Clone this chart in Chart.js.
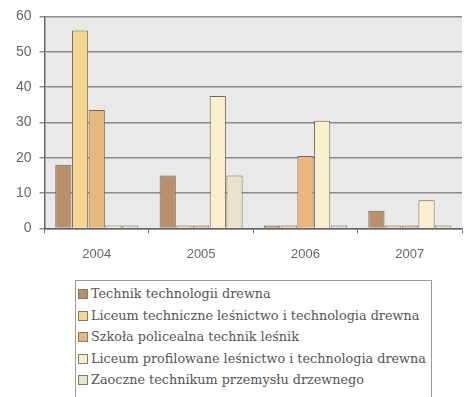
<!DOCTYPE html>
<html>
<head>
<meta charset="utf-8">
<script src="https://cdn.jsdelivr.net/npm/chart.js@4/dist/chart.umd.min.js"></script>
<style>
  html, body { margin:0; padding:0; background:#fff; }
  #wrap { position:relative; width:469px; height:397px; overflow:hidden; }
  #cv { position:absolute; left:0; top:0; }
  #legend { position:absolute; left:75px; top:280px; width:357px; height:125px;
    border:1px solid #9a9a9a; box-sizing:border-box; padding:5px 0 0 2px;
    font-family:"DejaVu Serif", serif; font-size:12.8px; color:#555; }
  #legend div { height:21.5px; line-height:16px; white-space:nowrap; font-family:"DejaVu Serif", serif; }
  #legend span.box { display:inline-block; width:8px; height:8px; border:1px solid #8a7a68; margin-right:3px; vertical-align:-1px; }
</style>
</head>
<body>
<div id="wrap">
  <canvas id="cv" width="469" height="275"></canvas>
  <div id="legend"></div>
</div>
<script>
const categories = ["2004", "2005", "2006", "2007"];
const seriesNames = [
  "Technik technologii drewna",
  "Liceum techniczne leśnictwo i technologia drewna",
  "Szkoła policealna technik leśnik",
  "Liceum profilowane leśnictwo i technologia drewna",
  "Zaoczne technikum przemysłu drzewnego"
];
const technikTechnologii = [18, 15, 0, 5];
const liceumTechniczne = [56, 0, 0, 0];
const szkolaPolicealna = [33.5, 0, 20.5, 0];
const liceumProfilowane = [0, 37.5, 30.5, 8];
const zaoczneTechnikum = [0, 15, 0, 0];
const yTicks = [0, 10, 20, 30, 40, 50, 60];

const seriesValues = [technikTechnologii, liceumTechniczne, szkolaPolicealna, liceumProfilowane, zaoczneTechnikum];
const colors = ["#b8916a", "#f6d68e", "#e9b77c", "#fcefcd", "#e6e5cc"];

const bgPlugin = {
  id: 'bg',
  beforeDraw(chart) {
    const a = chart.chartArea, ctx = chart.ctx;
    ctx.save();
    ctx.fillStyle = '#e9e9e9';
    ctx.fillRect(a.left, a.top, a.right - a.left, a.bottom - a.top);
    ctx.restore();
  }
};

const chart = new Chart(document.getElementById('cv'), {
  type: 'bar',
  data: {
    labels: categories,
    datasets: seriesValues.map((v, i) => ({
      label: seriesNames[i],
      data: v,
      backgroundColor: colors[i],
      borderColor: '#74665a',
      borderWidth: 1,
      minBarLength: 3,
      categoryPercentage: 0.8,
      barPercentage: 0.97
    }))
  },
  options: {
    responsive: false,
    animation: false,
    layout: { padding: { top: 9, right: 7, left: 8, bottom: 0 } },
    plugins: { legend: { display: false }, tooltip: { enabled: false } },
    scales: {
      x: {
        offset: true,
        grid: { offset: true, drawOnChartArea: false, color: '#777', tickLength: 5 },
        border: { color: '#666', width: 1.5 },
        ticks: { color: '#666', font: { family: 'Liberation Sans', size: 13 }, padding: 13 }
      },
      y: {
        min: 0, max: 60,
        afterBuildTicks(scale) { scale.ticks = yTicks.map(v => ({ value: v })); },
        grid: { color: '#8a8a8a', lineWidth: 1.5, tickLength: 5 },
        border: { color: '#666', width: 1.5 },
        ticks: { color: '#666', font: { family: 'Liberation Sans', size: 14 }, padding: 8 }
      }
    }
  },
  plugins: [bgPlugin]
});

const lg = document.getElementById('legend');
chart.data.datasets.forEach(ds => {
  const row = document.createElement('div');
  const box = document.createElement('span');
  box.className = 'box';
  box.style.background = ds.backgroundColor;
  row.appendChild(box);
  row.appendChild(document.createTextNode(ds.label));
  lg.appendChild(row);
});
</script>
</body>
</html>
